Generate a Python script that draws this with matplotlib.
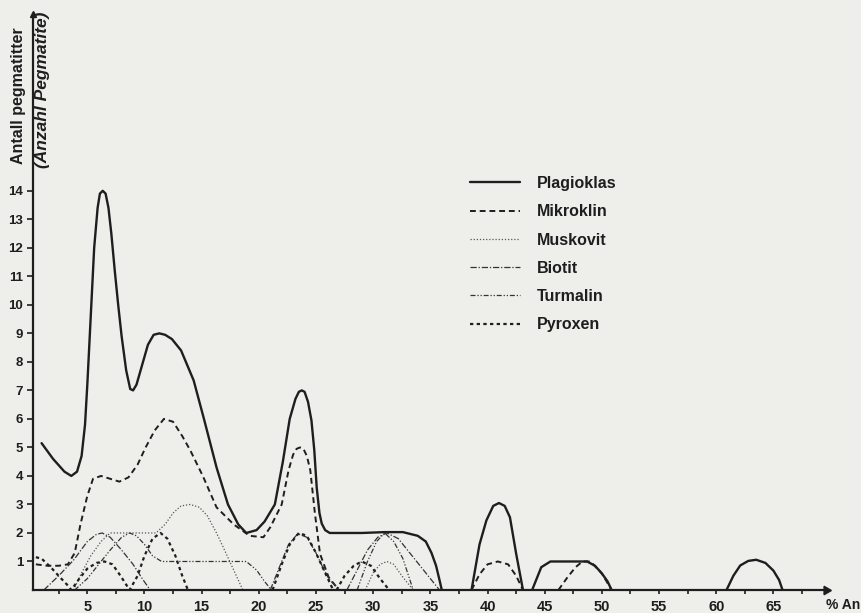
import numpy as np
import matplotlib
matplotlib.use("Agg")
import matplotlib.pyplot as plt

nan = np.nan
# ---- data (x = % An, y = number of pegmatites); nan separates segments ----
plagioklas_x = [1.0, 2.0, 3.0, 3.6, 4.1, 4.5, 4.8, 5.0, 5.25, 5.6, 5.9, 6.1, 6.35, 6.6, 6.85, 7.1, 7.4,
                7.7, 8.0, 8.4, 8.75, 9.0, 9.3, 9.8, 10.3, 10.8, 11.3, 11.8, 12.4, 13.2, 14.3, 15.2, 16.3,
                17.3, 18.2, 18.9, 19.8, 20.5, 21.4, 22.1, 22.7, 23.2, 23.5, 23.75, 24.0, 24.3, 24.6, 24.85,
                25.06, 25.3, 25.5, 25.8, 26.2, 27, 29, 31, 32.6, 33.9, 34.6, 35.1, 35.5, 35.8, 36.0, nan,
                38.6, 39.3, 39.9, 40.5, 41.0, 41.5, 41.96, 42.5, 43.1, nan,
                43.9, 44.7, 45.5, 47.0, 48.7, 49.4, 50.0, 50.5, 50.85, nan,
                60.9, 61.5, 62.1, 62.8, 63.5, 64.3, 65.0, 65.5, 65.8]
plagioklas_y = [5.15, 4.6, 4.15, 4.0, 4.15, 4.7, 5.8, 7.2, 9.2, 12.0, 13.4, 13.9, 14.0, 13.9, 13.4, 12.5, 11.2,
                10.0, 8.9, 7.7, 7.05, 7.0, 7.2, 7.9, 8.6, 8.95, 9.0, 8.95, 8.8, 8.4, 7.35, 6.0, 4.3,
                3.0, 2.3, 2.0, 2.1, 2.4, 3.0, 4.5, 6.0, 6.7, 6.95, 7.0, 6.95, 6.6, 5.95, 4.9,
                3.6, 2.7, 2.33, 2.1, 2.0, 2.0, 2.0, 2.03, 2.03, 1.9, 1.7, 1.3, 0.85, 0.35, 0.0, nan,
                0.0, 1.6, 2.44, 2.95, 3.05, 2.95, 2.55, 1.28, 0.0, nan,
                0.0, 0.8, 1.0, 1.0, 1.0, 0.85, 0.58, 0.3, 0.0, nan,
                0.0, 0.5, 0.86, 1.02, 1.06, 0.95, 0.68, 0.35, 0.0]

mikroklin_x = [0.5, 1.5, 2.5, 3.3, 3.9, 4.4, 5.0, 5.5, 6.2, 7.0, 7.8, 8.6, 9.4, 10.1, 10.9, 11.7, 12.5,
               13.3, 14.0, 15.1, 16.3, 17.8, 19.2, 20.4, 21.0, 22.0, 22.6, 23.0, 23.3, 23.6, 23.9, 24.2,
               24.5, 24.9, 25.35, 26.1, 27.0, nan,
               38.6, 39.3, 40.0, 40.9, 41.8, 42.5, 43.1, nan,
               46.2, 47.0, 47.7, 48.3, 49.0, 50.0, 50.85]
mikroklin_y = [0.9, 0.85, 0.85, 0.9, 1.3, 2.3, 3.3, 3.9, 4.0, 3.9, 3.8, 3.95, 4.4, 5.0, 5.6, 6.0, 5.9,
               5.4, 4.9, 4.0, 2.9, 2.3, 1.9, 1.85, 2.2, 3.0, 4.2, 4.75, 4.95, 5.0, 4.95, 4.7,
               4.2, 2.7, 1.27, 0.45, 0.0, nan,
               0.0, 0.55, 0.9, 1.0, 0.9, 0.5, 0.0, nan,
               0.0, 0.45, 0.8, 1.0, 1.0, 0.58, 0.0]

muskovit_x = [3.8, 4.5, 5.3, 6.2, 7.0, 8.0, 9.0, 10.0, 11.0, 11.8, 12.5, 13.2, 14.0, 14.8, 15.5, 16.3,
              17.0, 17.8, 18.6, nan,
              29.3, 30.0, 30.6, 31.2, 31.8, 32.5, 33.5]
muskovit_y = [0.0, 0.6, 1.2, 1.7, 2.0, 2.0, 2.0, 2.0, 2.0, 2.3, 2.7, 2.95, 3.0, 2.9, 2.6, 2.0,
              1.4, 0.7, 0.0, nan,
              0.0, 0.6, 0.9, 1.0, 0.9, 0.5, 0.0]

biotit_x = [1.2, 2.5, 3.8, 5.0, 5.8, 6.3, 7.0, 8.0, 9.0, 9.8, 10.5, nan,
            21.0, 21.8, 22.6, 23.4, 24.2, 25.0, 25.7, 26.2, 27.1, nan,
            27.7, 28.6, 29.5, 30.4, 31.2, 32.2, 33.2, 34.2, 35.0, 35.8]
biotit_y = [0.0, 0.5, 1.05, 1.7, 1.95, 2.0, 1.85, 1.4, 0.9, 0.4, 0.0, nan,
            0.0, 0.8, 1.6, 1.97, 1.85, 1.3, 0.7, 0.35, 0.0, nan,
            0.0, 0.7, 1.4, 1.85, 2.0, 1.8, 1.3, 0.8, 0.4, 0.0]

turmalin_x = [3.9, 5.0, 6.0, 7.0, 8.0, 8.7, 9.3, 10.0, 10.7, 11.5, 13.0, 15.0, 17.0, 18.9, 19.8, 20.5,
              21.1, nan,
              28.6, 29.5, 30.3, 31.0, 31.8, 32.6, 33.5]
turmalin_y = [0.0, 0.4, 0.9, 1.4, 1.85, 2.0, 1.9, 1.6, 1.2, 1.0, 1.0, 1.0, 1.0, 1.0, 0.7, 0.3,
              0.0, nan,
              0.0, 1.0, 1.7, 2.0, 1.7, 1.1, 0.0]

pyroxen_x = [0.5, 1.0, 1.8, 2.6, 3.2, 3.6, 4.3, 5.0, 5.8, 6.5, 7.2, 7.9, 8.7, 9.4, 10.0, 10.7, 11.4,
             12.0, 12.7, 13.3, 13.8, nan,
             21.2, 22.0, 22.7, 23.5, 24.2, 25.0, 25.8, 26.5, nan,
             26.8, 27.5, 28.3, 29.0, 29.8, 30.6, 31.4]
pyroxen_y = [1.15, 1.1, 0.8, 0.45, 0.2, 0.0, 0.4, 0.75, 0.95, 1.0, 0.9, 0.5, 0.0, 0.5, 1.2, 1.8, 2.0,
             1.8, 1.2, 0.5, 0.0, nan,
             0.0, 0.9, 1.6, 2.0, 1.9, 1.3, 0.6, 0.0, nan,
             0.0, 0.5, 0.85, 1.0, 0.85, 0.4, 0.0]

series_names = ["Plagioklas", "Mikroklin", "Muskovit", "Biotit", "Turmalin", "Pyroxen"]
y_ticks = list(range(1, 15))
x_tick_labels = [5, 10, 15, 20, 25, 30, 35, 40, 45, 50, 55, 60, 65]

# ---- figure ----
bg = "#eeeeeb"
ink = "#1e1e1e"
plt.rcParams['font.family'] = ['Liberation Sans', 'DejaVu Sans']
fig = plt.figure(figsize=(8.62, 6.13), dpi=100, facecolor=bg)
ax = fig.add_axes([33 / 862, 23 / 613, 793 / 862, 576 / 613])
ax.set_facecolor(bg)

styles = [
    dict(color=ink, lw=1.7, ls='-'),
    dict(color=ink, lw=1.4, ls=(0, (3, 2))),
    dict(color="#555555", lw=0.9, ls=(0, (1, 1.5))),
    dict(color="#333333", lw=0.9, ls=(0, (5, 1.5, 1, 1.5))),
    dict(color="#333333", lw=0.9, ls=(0, (4, 1.5, 1, 1.5, 1, 1.5))),
    dict(color=ink, lw=1.6, ls=(0, (1.5, 1.5))),
]
data = [(plagioklas_x, plagioklas_y), (mikroklin_x, mikroklin_y), (muskovit_x, muskovit_y),
        (biotit_x, biotit_y), (turmalin_x, turmalin_y), (pyroxen_x, pyroxen_y)]
for name, (xs, ys), st in zip(series_names, data, styles):
    ax.plot(np.array(xs, float), np.array(ys, float), label=name, solid_joinstyle='round',
            solid_capstyle='round', **st)

ax.set_xlim(0.25, 69.6)
ax.set_ylim(0, 20.2)
for s in ("top", "right"):
    ax.spines[s].set_visible(False)
for s in ("left", "bottom"):
    ax.spines[s].set_color(ink)
    ax.spines[s].set_linewidth(1.6)

# axis arrows
ax.plot(1, 0, marker=(3, 0, -90), color=ink, ms=7, transform=ax.get_yaxis_transform(), clip_on=False)
ax.plot(0.25, 1, marker="^", color=ink, ms=5, transform=ax.get_xaxis_transform(), clip_on=False)

ax.set_yticks(y_ticks)
ax.set_yticklabels([str(v) for v in y_ticks], fontsize=9.5, fontweight='bold', color=ink)
xt = np.arange(2.5, 67.6, 2.5)
ax.set_xticks(xt)
ax.set_xticklabels([str(int(t)) if int(t) in x_tick_labels and t == int(t) else "" for t in xt],
                   fontsize=10.5, fontweight='bold', color=ink)
ax.tick_params(axis='y', direction='out', length=4, width=1.2, pad=3, colors=ink)
ax.tick_params(axis='x', direction='out', length=3, width=1.2, pad=4, colors=ink)

fig.text(860 / 862, 1 - 605 / 613, "% An", fontsize=10, fontweight='bold', color=ink,
         ha='right', va='center')
fig.text(19 / 862, 1 - 96 / 613, "Antall pegmatitter", rotation=90, fontsize=11.5, fontweight='bold',
         color=ink, ha='center', va='center')
fig.text(43 / 862, 1 - 90 / 613, "(Anzahl Pegmatite)", rotation=90, fontsize=12.5, fontweight='bold',
         style='italic', color=ink, ha='center', va='center')

leg = ax.legend(loc='upper left', bbox_to_anchor=(470 / 862, 1 - 176 / 613),
                bbox_transform=fig.transFigure, frameon=False, handlelength=3.1,
                handletextpad=1.1, labelspacing=0.83, borderpad=0, borderaxespad=0,
                prop=dict(size=11.5, weight='bold'))
for t in leg.get_texts():
    t.set_color(ink)

fig.savefig("out.png", dpi=100, facecolor=bg)
